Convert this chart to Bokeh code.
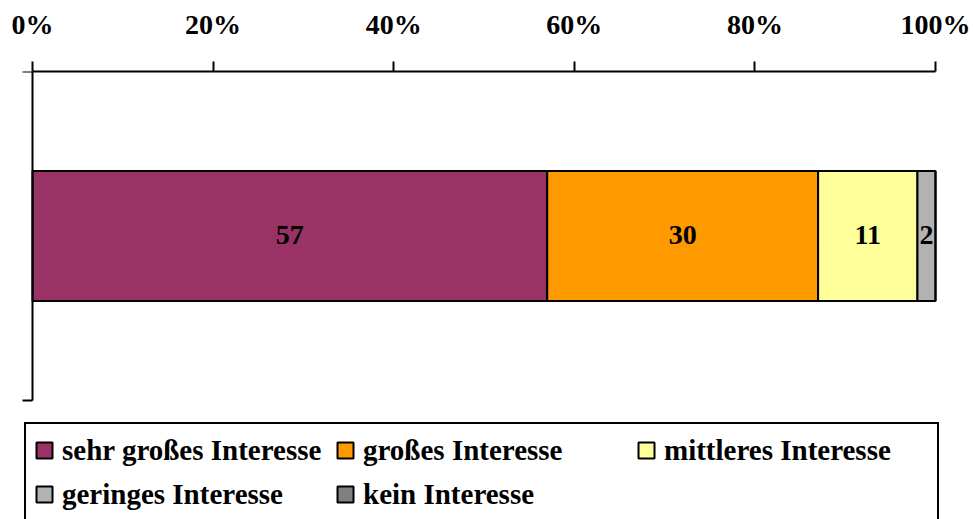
from bokeh.plotting import figure
from bokeh.models import (ColumnDataSource, Range1d, LinearAxis, FixedTicker,
                          PrintfTickFormatter, Legend, LegendItem)
from bokeh.core.properties import value
from bokeh.embed import file_html
from bokeh.resources import INLINE

# Interest levels (percent of respondents)
categories = ["sehr großes Interesse", "großes Interesse", "mittleres Interesse",
              "geringes Interesse", "kein Interesse"]
shares = [57, 30, 11, 2, 0]
colors = ["#993366", "#FF9900", "#FFFF99", "#B2B2B2", "#808080"]
tick_values = [0, 20, 40, 60, 80, 100]

FONT = "Liberation Serif"

lefts = []
acc = 0
for v in shares:
    lefts.append(acc)
    acc += v
rights = [l + v for l, v in zip(lefts, shares)]

# The frame covers the full width and runs to the bottom of the page, so the
# legend box can sit below the bar; 0..100 % spans x = 32..935 px and the
# category band spans y = 71..400 px.
W, H = 973, 519
X0, X1 = 32, 935
Y0, Y1 = 71, 400
ppu = (X1 - X0) / 100.0
x_start = -X0 / ppu
x_end = 100 + (W - X1) / ppu
y_start = -(H - Y1) / (Y1 - Y0)

p = figure(width=W, height=H, output_backend="svg", toolbar_location=None,
           x_range=Range1d(x_start, x_end), y_range=Range1d(y_start, 1),
           x_axis_location=None, y_axis_location=None,
           min_border_left=0, min_border_right=0,
           min_border_top=Y0, min_border_bottom=0)
p.outline_line_color = None
p.xgrid.visible = False
p.ygrid.visible = False
p.background_fill_color = "white"

# percentage scale along the top
top_axis = LinearAxis(ticker=FixedTicker(ticks=tick_values), bounds=(0, 100),
                      formatter=PrintfTickFormatter(format="%d%%"))
top_axis.axis_line_width = 2
top_axis.major_tick_line_width = 2
top_axis.major_tick_in = 0
top_axis.major_tick_out = 10
top_axis.minor_tick_line_color = None
top_axis.major_label_text_font = FONT
top_axis.major_label_text_font_style = "bold"
top_axis.major_label_text_font_size = "28px"
top_axis.major_label_text_color = "black"
top_axis.major_label_standoff = 22
p.add_layout(top_axis, "above")

# category axis at 0 %: line with boundary ticks only
left_axis = LinearAxis(ticker=FixedTicker(ticks=[0, 1]), bounds=(0, 1),
                       fixed_location=0)
left_axis.axis_line_width = 2
left_axis.major_tick_line_width = 2
left_axis.major_tick_in = 0
left_axis.major_tick_out = 10
left_axis.minor_tick_line_color = None
left_axis.major_label_text_font_size = "0px"
left_axis.major_label_text_alpha = 0
p.add_layout(left_axis, "left")

renderers = []
for i in range(len(categories)):
    renderers.append(p.hbar(y=0.5, left=lefts[i], right=rights[i], height=0.395,
                            fill_color=colors[i], line_color="black", line_width=2))

lab = ColumnDataSource(dict(x=[(l + r) / 2 for l, r, v in zip(lefts, rights, shares) if v > 0],
                            t=[str(v) for v in shares if v > 0]))
p.text(x="x", y=0.5, text="t", source=lab, text_align="center",
       text_baseline="middle", text_font=value(FONT), text_font_style="bold",
       text_font_size="28px", text_color="black", y_offset=-1)

# the legend grid fills column by column; order items so rows read left to right
ncols = 3
nrows = (len(categories) + ncols - 1) // ncols
order = []
for c in range(ncols):
    for r in range(nrows):
        k = r * ncols + c
        if k < len(categories):
            order.append(k)
items = [LegendItem(label=categories[k], renderers=[renderers[k]]) for k in order]

legend = Legend(items=items, ncols=ncols, location=(24, -3))
legend.glyph_width = 20
legend.glyph_height = 20
legend.label_standoff = 8
legend.label_width = 265
legend.label_height = 36
legend.spacing = 8
legend.padding = 8
legend.margin = 0
legend.border_line_color = "black"
legend.border_line_alpha = 1.0
legend.border_line_width = 2
legend.background_fill_color = "white"
legend.background_fill_alpha = 1.0
legend.label_text_font = FONT
legend.label_text_font_style = "bold"
legend.label_text_font_size = "29px"
legend.label_text_color = "black"
p.add_layout(legend, "center")

open("out.html", "w").write(file_html(p, INLINE))
